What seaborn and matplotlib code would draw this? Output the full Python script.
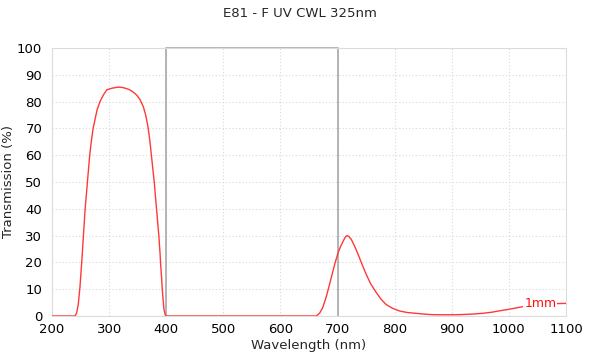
import matplotlib
matplotlib.use("Agg")
import matplotlib.pyplot as plt
import seaborn as sns
import pandas as pd

title = "E81 - F UV CWL 325nm"
x_label = "Wavelength (nm)"
y_label = "Transmission (%)"
series_label = "1mm"

wavelength = [200, 220, 240, 243, 246, 249, 252, 255, 258, 262, 266, 269, 272, 276, 279, 284,
              290, 296, 305, 316, 325, 335, 342, 348, 354, 360, 364, 368, 371, 374,
              377, 379, 381, 383, 385, 387, 389, 390, 392, 393, 395, 396, 398, 399,
              400, 450, 500, 550, 600, 650, 663, 669, 674, 680, 686, 691, 695, 698,
              701, 705, 710, 714, 717, 720, 724, 730, 736, 743, 750, 758, 768, 776,
              785, 796, 808, 822, 837, 852, 866, 890, 913, 935, 954, 970, 983, 1000,
              1015, 1030, 1050, 1077, 1100]
transmission = [0, 0, 0, 1.0, 4.4, 11, 20, 30, 40, 50, 60, 65.5, 70, 74, 77, 80,
                82.5, 84.4, 85.0, 85.4, 85.2, 84.5, 83.6, 82.5, 80.8, 78, 75, 70.6, 66, 60,
                54, 50, 45, 40, 35, 30, 24, 20, 14, 10, 5, 2.5, 0.6, 0,
                0, 0, 0, 0, 0, 0, 0, 1.2, 3.1, 7, 11.8, 16, 19.3, 21.5,
                23.6, 25.8, 28, 29.6, 30, 29.6, 28.6, 26, 23, 19.2, 15.6, 12, 8.7, 6.3,
                4.3, 2.9, 1.9, 1.3, 1.0, 0.7, 0.5, 0.45, 0.5, 0.7, 1.0, 1.4, 1.9, 2.5,
                3.1, 3.7, 4.3, 4.6, 4.7]

x_ticks = [200, 300, 400, 500, 600, 700, 800, 900, 1000, 1100]
y_ticks = [0, 10, 20, 30, 40, 50, 60, 70, 80, 90, 100]
band_edges = [400, 700]

df = pd.DataFrame({"wavelength": wavelength, "transmission": transmission})

sns.set_theme(style="white")
plt.rcParams["font.family"] = ["DejaVu Sans"]

fig = plt.figure(figsize=(6.0, 3.63), dpi=100)
ax = fig.add_axes([0.0867, 0.1295, 0.8566, 0.7383])

ax.set_xlim(x_ticks[0], x_ticks[-1])
ax.set_ylim(y_ticks[0], y_ticks[-1])
ax.set_xticks(x_ticks)
ax.set_yticks(y_ticks)
ax.grid(True, color="#d8d8d8", linestyle=(0, (1, 2)), linewidth=0.8)
ax.set_axisbelow(True)
for s in ax.spines.values():
    s.set_color("#dcdcdc")
    s.set_linewidth(0.8)
ax.tick_params(axis="both", length=0, labelsize=9.5, colors="black")
ax.tick_params(axis="y", pad=7)
ax.tick_params(axis="x", pad=5)

# grey band box
ax.plot([band_edges[0], band_edges[0], band_edges[1], band_edges[1]],
        [y_ticks[0], y_ticks[-1], y_ticks[-1], y_ticks[0]],
        color="#a8a8a8", linewidth=1.2, zorder=2, clip_on=False)

sns.lineplot(data=df, x="wavelength", y="transmission", ax=ax,
             color="#ff3838", linewidth=1.0, zorder=3)

ax.text(1055, 4.6, series_label, color="#ff1010", fontsize=9, ha="center", va="center",
        zorder=4, bbox=dict(facecolor="white", edgecolor="none", pad=0.5))

ax.set_xlabel(x_label, fontsize=9.5, labelpad=2)
ax.set_ylabel(y_label, fontsize=9.5)
ax.yaxis.set_label_coords(-0.072, 0.5)
fig.text(0.5, 0.962, title, ha="center", va="center", fontsize=9.5)

fig.savefig("out.png", dpi=100)
